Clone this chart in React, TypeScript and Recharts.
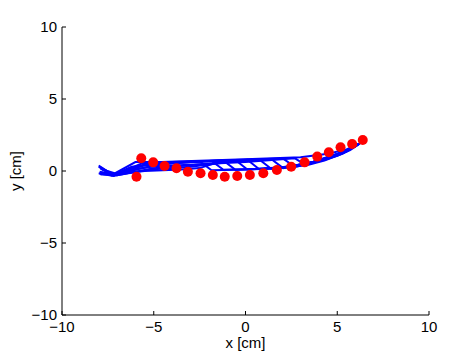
import React from "react";
import { ScatterChart, Scatter, XAxis, YAxis } from "recharts";

const xTicks = [-10, -5, 0, 5, 10];
const yTicks = [-10, -5, 0, 5, 10];
const tickLabels: Record<number, string> = { [-10]: "\u221210", [-5]: "\u22125", 0: "0", 5: "5", 10: "10" };

const redX = [-5.94, -5.68, -5.03, -4.41, -3.76, -3.14, -2.45, -1.78, -1.13, -0.45, 0.24, 0.97, 1.71, 2.49, 3.22, 3.91, 4.54, 5.18, 5.81, 6.39];
const redY = [-0.4, 0.88, 0.6, 0.35, 0.19, -0.05, -0.16, -0.28, -0.4, -0.35, -0.28, -0.16, 0.07, 0.3, 0.6, 1.0, 1.3, 1.65, 1.88, 2.15];

const line1 = [[-7.95, -0.2], [-7.2, -0.32], [-5.8, 0.15], [-4.2, 0.5], [-2.5, 0.68], [-1.85, 0.05], [0, 0.1], [2, 0.24], [3.5, 0.55], [5, 1.15], [6.0, 1.72]];
const line2 = [[-8.0, 0.38], [-7.25, -0.25], [-6.0, 0.62], [-4, 0.62], [-1.85, 0.7], [-1.2, 0.08], [0.5, 0.14], [2.2, 0.28], [3.6, 0.6], [5.1, 1.2], [6.05, 1.76]];
const line3 = [[-7.9, -0.25], [-7.0, -0.2], [-5.5, 0.0], [-3.5, 0.1], [-2.5, 0.2], [-1.2, 0.72], [-0.55, 0.08], [1, 0.16], [2.5, 0.33], [3.7, 0.65], [5.2, 1.28], [6.1, 1.8]];
const line4 = [[-8.0, 0.3], [-7.3, -0.3], [-6.2, 0.3], [-4.5, 0.52], [-0.55, 0.76], [0.1, 0.1], [1.5, 0.18], [2.8, 0.38], [4, 0.72], [5.3, 1.3], [6.1, 1.82]];
const line5 = [[-7.85, -0.1], [-7.0, -0.3], [-5.2, 0.1], [-3, 0.3], [0.1, 0.78], [0.75, 0.12], [2, 0.22], [3.1, 0.43], [4.2, 0.8], [5.4, 1.35], [6.15, 1.85]];
const line6 = [[-7.9, 0.15], [-7.1, -0.28], [-5.5, 0.45], [-2, 0.7], [0.75, 0.8], [1.4, 0.15], [2.5, 0.28], [3.5, 0.55], [4.5, 0.9], [5.5, 1.4], [6.15, 1.86]];
const line7 = [[-8.0, -0.15], [-7.2, -0.35], [-5.0, 0.2], [-1.5, 0.55], [1.4, 0.84], [2.05, 0.2], [3, 0.36], [4, 0.7], [5, 1.05], [5.7, 1.45], [6.2, 1.88]];
const line8 = [[-7.9, 0.25], [-7.15, -0.3], [-5.7, 0.5], [-1, 0.74], [2.05, 0.86], [2.7, 0.28], [3.5, 0.5], [4.5, 0.85], [5.5, 1.35], [6.2, 1.9]];
const line9 = [[-7.95, -0.05], [-7.2, -0.25], [-5.3, 0.3], [0, 0.62], [2.7, 0.88], [3.3, 0.38], [4.3, 0.72], [5.3, 1.2], [6.2, 1.9]];
const line10 = [[-7.8, 0.1], [-7.0, -0.2], [-5.0, 0.6], [0, 0.82], [3, 0.95], [4.5, 1.2], [5.5, 1.5], [6.25, 1.92]];

const blueLines = [line1, line2, line3, line4, line5, line6, line7, line8, line9, line10];

const redData = redX.map((x, i) => ({ x, y: redY[i] }));
const blueData = blueLines.map((l) => l.map(([x, y]) => ({ x, y })));

const FONT = "'Liberation Sans', Arial, sans-serif";

const XTick = (props: any) => {
  const { x, y, payload } = props;
  return (
    <g>
      <line x1={x} y1={y} x2={x} y2={y - 4} stroke="#000" strokeWidth={1} />
      <text x={x} y={y + 17} textAnchor="middle" fontSize={15} fontFamily={FONT} fill="#000">
        {tickLabels[payload.value]}
      </text>
    </g>
  );
};

const YTick = (props: any) => {
  const { x, y, payload } = props;
  return (
    <g>
      <line x1={x} y1={y} x2={x + 4} y2={y} stroke="#000" strokeWidth={1} />
      <text x={x - 5} y={y + 5} textAnchor="end" fontSize={15} fontFamily={FONT} fill="#000">
        {tickLabels[payload.value]}
      </text>
    </g>
  );
};

const Dot = (props: any) => {
  const { cx, cy } = props;
  return <circle cx={cx} cy={cy} r={5} fill="#ff0000" />;
};

const NoShape = () => <g />;

export default function App() {
  return (
    <ScatterChart width={466} height={349} margin={{ top: 19, right: 45, bottom: 0, left: 0 }}>
      <XAxis
        type="number"
        dataKey="x"
        domain={[-10, 10]}
        ticks={xTicks}
        tickSize={0}
        tickMargin={0}
        tickLine={false}
        tick={<XTick />}
        height={42}
        stroke="#000"
        allowDataOverflow
        label={{ value: "x [cm]", position: "insideBottom", offset: 9, fontSize: 15, fontFamily: FONT, fill: "#000" }}
      />
      <YAxis
        type="number"
        dataKey="y"
        domain={[-10, 10]}
        ticks={yTicks}
        tickSize={0}
        tickMargin={0}
        tickLine={false}
        tick={<YTick />}
        width={54}
        stroke="#000"
        allowDataOverflow
        label={{ value: "y [cm]", angle: -90, position: "insideLeft", offset: 8, fontSize: 15, fontFamily: FONT, fill: "#000", style: { textAnchor: "middle" } }}
      />
      {blueData.map((d, i) => (
        <Scatter
          key={i}
          data={d}
          line={{ stroke: "#0000ff", strokeWidth: 2 }}
          shape={<NoShape />}
          isAnimationActive={false}
        />
      ))}
      <Scatter data={redData} shape={<Dot />} isAnimationActive={false} />
    </ScatterChart>
  );
}
